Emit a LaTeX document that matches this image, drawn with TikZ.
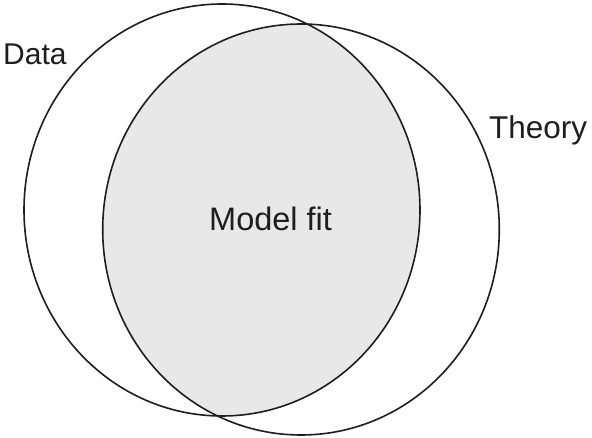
\documentclass[tikz,border=0pt]{standalone}
\usepackage{fontspec}
\setmainfont{Liberation Sans}
\definecolor{fitgray}{HTML}{E8E8E8}
\definecolor{linegray}{HTML}{1E1E1E}
\begin{document}
\begin{tikzpicture}[x=1pt,y=-1pt,
  ring/.style={draw=linegray,line width=1.6pt},
  lbl/.style={inner sep=0pt,anchor=base west,text=linegray},
]
\useasboundingbox (0,0) rectangle (592,438);
\fill[white] (0,0) rectangle (592,438);
\begin{scope}
  \clip (222,210) ellipse [x radius=198, y radius=206];
  \fill[fitgray] (301,229.5) ellipse [x radius=198.3, y radius=205.5];
\end{scope}
\draw[ring] (222,210) ellipse [x radius=198, y radius=206];
\draw[ring] (301,229.5) ellipse [x radius=198.3, y radius=205.5];
\node[lbl,font=\fontsize{30}{30}\selectfont] (data) at (3,64.3) {Data};
\node[lbl,font=\fontsize{31.5}{32}\selectfont] (theory) at (489,138.3) {Theory};
\node[lbl,font=\fontsize{32.5}{33}\selectfont] (fit) at (209,231) {Model fit};
\end{tikzpicture}
\end{document}
